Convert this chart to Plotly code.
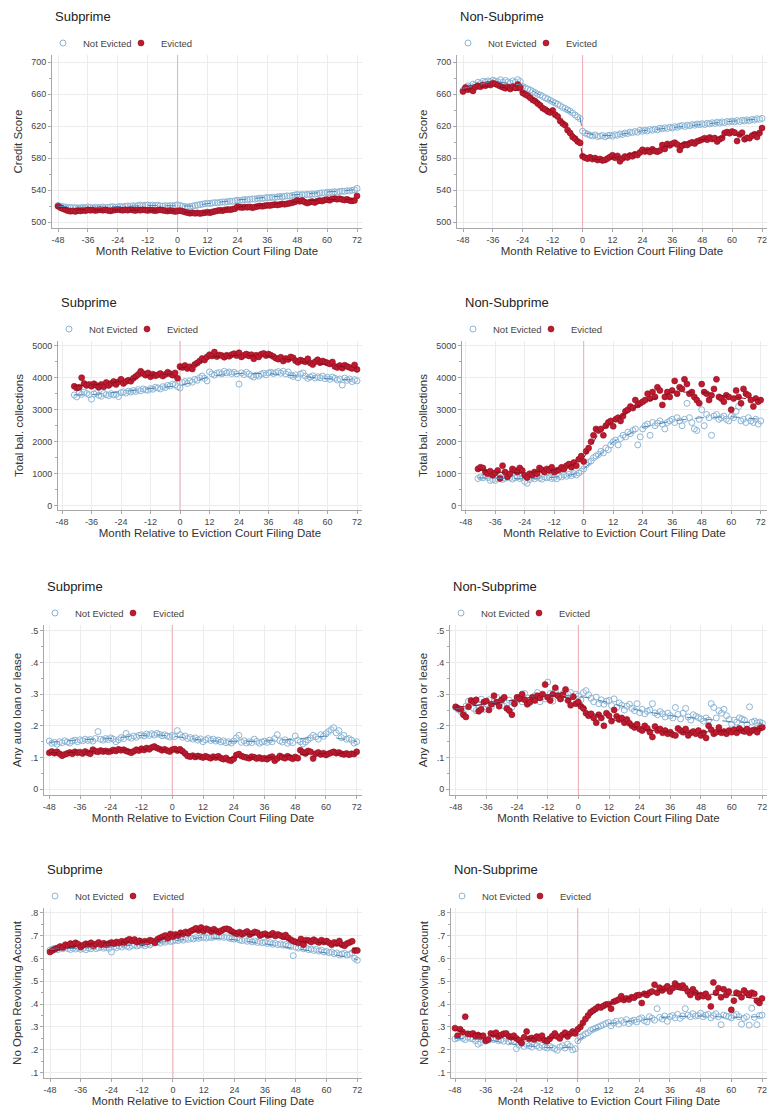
import plotly.graph_objects as go

W, H = 767, 1113

# ---------------- data ----------------
MONTHS = list(range(-48, 73))          # credit score, auto, revolving panels
MONTHS_COL = list(range(-43, 73))      # collections panels
FIT_X = [-48, -36, -24, -12, -6, -1, 0, 6, 12, 24, 36, 48, 60, 72]
FIT_X_COL = [-43, -36, -24, -12, -6, -1, 0, 6, 12, 24, 36, 48, 60, 72]
EVENT_MONTH = 0

X_TICKS = [-48, -36, -24, -12, 0, 12, 24, 36, 48, 60, 72]
X_TICK_LABELS = ["-48", "-36", "-24", "-12", "0", "12", "24", "36", "48", "60", "72"]
CS_TICKS = [500, 540, 580, 620, 660, 700]
CS_LABELS = ["500", "540", "580", "620", "660", "700"]
COL_TICKS = [0, 1000, 2000, 3000, 4000, 5000]
COL_LABELS = ["0", "1000", "2000", "3000", "4000", "5000"]
AUTO_TICKS = [0, 0.1, 0.2, 0.3, 0.4, 0.5]
AUTO_LABELS = ["0", ".1", ".2", ".3", ".4", ".5"]
REV_TICKS = [0.1, 0.2, 0.3, 0.4, 0.5, 0.6, 0.7, 0.8]
REV_LABELS = [".1", ".2", ".3", ".4", ".5", ".6", ".7", ".8"]

# Subprime credit score
SUB_CS_NE = [
    520.5, 519.8, 519.2, 518.6, 517.9, 518.3, 517.6, 518.1, 517.4, 517.9, 518.2, 517.7,
    518.9, 518.1, 517.6, 518.4, 517.8, 518.2, 518.7, 517.9, 518.3, 518.8, 519.1, 518.4,
    518.9, 519.4, 518.8, 519.6, 520.1, 519.5, 520.3, 519.8, 520.6, 521.2, 520.4, 520.9,
    521.3, 520.7, 521.1, 520.5, 520.9, 520.2, 519.8, 520.4, 519.9, 520.5, 520.1, 520.8,
    521.5, 520.6, 519.9, 519.2, 518.8, 519.4, 519.9, 520.5, 521.1, 521.8, 522.3, 522.9,
    523.4, 523.1, 523.8, 524.2, 523.9, 524.6, 525.1, 524.8, 525.5, 526.1, 525.8, 526.4,
    527.3, 526.9, 527.5, 528.1, 527.7, 528.4, 528.9, 528.6, 529.3, 529.8, 529.4, 530.1,
    530.6, 530.2, 531.1, 530.7, 531.4, 531.9, 531.5, 532.2, 532.7, 532.3, 533.1, 533.6,
    534.5, 533.8, 534.3, 533.9, 534.6, 534.2, 535.1, 534.7, 535.4, 535.9, 536.5, 536.1,
    537.2, 536.6, 537.4, 537.9, 537.3, 538.1, 538.6, 538.2, 539.1, 538.7, 539.6, 540.2,
    542.0]
SUB_CS_EV = [
    519.8, 517.9, 516.6, 515.2, 514.1, 513.4, 513.9, 513.2, 514.4, 513.8, 514.6, 514.1,
    515.3, 514.6, 515.1, 514.3, 514.9, 515.4, 514.7, 515.2, 514.5, 513.9, 514.6, 515.1,
    515.8, 515.1, 514.6, 515.3, 514.8, 515.5, 514.9, 514.3, 515.1, 514.7, 515.4, 514.9,
    514.4, 515.1, 514.6, 514.1, 514.8, 515.3, 514.7, 514.2, 513.6, 514.3, 513.7, 513.1,
    513.6, 514.2, 513.3, 512.4, 511.6, 510.9, 511.5, 510.8, 511.3, 510.6, 511.2, 511.7,
    512.3, 511.6, 512.6, 513.3, 514.1, 514.6, 514.2, 515.1, 515.6, 515.3, 516.0, 516.6,
    519.2, 518.4, 518.0, 518.7, 518.3, 518.9, 517.8, 518.6, 519.4, 520.1, 519.6, 520.3,
    521.0, 520.5, 521.2, 521.8, 521.3, 521.9, 522.6, 522.1, 522.8, 523.4, 524.2, 525.1,
    527.0, 525.8, 526.9, 524.9, 523.6, 524.8, 525.6, 524.3, 525.9, 526.8, 526.2, 527.4,
    528.0, 527.1, 528.6, 529.3, 528.4, 529.1, 528.2, 527.5, 528.3, 527.0, 526.4, 526.9,
    532.6]
SUB_CS_FIT_NE = [519.5, 518.2, 519.0, 520.8, 520.4, 520.3, 521.0, 520.0, 523.0, 527.5, 531.0, 534.5, 537.5, 540.5]
SUB_CS_FIT_EV = [518.5, 515.0, 515.0, 514.6, 514.4, 513.6, 513.2, 511.3, 512.5, 518.5, 521.5, 525.5, 528.0, 528.5]

# Non-subprime credit score
NS_CS_NE = [
    664.8, 667.5, 670.2, 669.1, 672.4, 671.3, 674.6, 673.2, 675.8, 674.9, 676.3, 675.4,
    677.2, 676.1, 675.3, 677.8, 674.6, 676.9, 675.2, 673.8, 676.4, 674.7, 677.9, 675.6,
    669.3, 667.8, 666.2, 664.9, 663.1, 661.8, 659.6, 658.7, 656.9, 655.2, 653.8, 652.1,
    650.4, 648.8, 647.1, 645.6, 643.2, 641.9, 640.1, 638.4, 636.2, 633.7, 631.4, 629.2,
    613.5, 611.2, 609.8, 608.4, 607.6, 608.9, 606.8, 607.4, 608.1, 606.5, 607.9, 608.6,
    607.2, 609.1, 608.4, 610.2, 609.5, 611.3, 610.6, 612.4, 611.8, 613.1, 612.2, 614.6,
    613.4, 614.9, 613.8, 615.6, 614.7, 616.1, 615.2, 617.3, 616.5, 617.8, 616.9, 618.5,
    617.6, 619.2, 618.3, 619.8, 620.6, 619.4, 621.1, 620.3, 621.8, 621.0, 622.5, 621.7,
    622.9, 621.8, 623.4, 622.6, 624.1, 623.2, 624.8, 623.6, 625.1, 624.3, 625.7, 624.9,
    626.2, 625.1, 626.8, 625.6, 627.1, 626.3, 627.6, 626.7, 628.2, 627.4, 629.1, 628.3,
    629.5]
NS_CS_EV = [
    663.2, 668.1, 665.4, 667.3, 663.9, 668.6, 670.2, 669.1, 671.4, 670.3, 672.1, 671.2,
    673.4, 672.6, 671.1, 669.8, 668.4, 667.2, 668.9, 666.3, 669.1, 667.6, 671.8, 668.2,
    661.3, 659.4, 657.8, 655.2, 652.6, 650.9, 648.1, 645.7, 642.3, 640.6, 638.2, 636.9,
    639.4, 634.2, 631.8, 626.4, 623.1, 620.9, 614.8, 611.2, 606.3, 604.1, 600.7, 598.9,
    582.1, 580.4, 579.2, 580.8, 578.6, 579.9, 577.4, 578.8, 576.9, 577.6, 579.3, 581.2,
    583.4, 580.2, 582.6, 575.8, 579.4, 581.8, 580.6, 583.2, 582.1, 584.6, 583.8, 586.9,
    590.2, 588.1, 589.6, 587.4, 590.8, 588.7, 587.9, 589.3, 596.2, 591.4, 597.6, 595.8,
    597.9, 599.2, 596.8, 590.1, 595.4, 597.1, 596.3, 598.4, 599.6, 598.1, 600.8, 601.9,
    603.2, 604.8, 602.9, 605.6, 603.7, 604.9, 600.6, 603.4, 605.1, 611.2, 612.4, 610.9,
    613.1, 611.8, 601.2, 609.3, 611.6, 603.4, 605.2, 604.8, 607.9, 609.6, 606.1, 611.3,
    617.4]
NS_CS_FIT_NE = [667, 676, 671, 650, 639, 630, 612, 608, 608, 614, 618, 622, 626, 629]
NS_CS_FIT_EV = [665, 671, 663, 638, 619, 600, 582, 578, 580, 589, 596, 603, 608, 612]

# Subprime total balance in collections (months -43..72)
SUB_COL_NE = [
    3460, 3400, 3520, 3480, 3550, 3510, 3470,
    3330, 3490, 3530, 3450, 3420, 3510, 3470, 3440, 3500, 3460, 3480, 3410,
    3530, 3560, 3520, 3580, 3550, 3600, 3570, 3630, 3590, 3650, 3620, 3610,
    3660, 3640, 3700, 3680, 3650, 3720, 3690, 3760, 3740, 3800, 3780, 3720,
    3680, 3850, 3880, 3820, 3900, 3860, 3950, 3920, 4000, 4050, 3980, 3900,
    4180, 4120, 4080, 4140, 4160, 4120, 4200, 4150, 4180, 4130, 4170, 4120,
    3800, 4150, 4100, 4170, 4120, 4060, 4020, 4080, 4050, 4110, 4140, 4090,
    4150, 4170, 4130, 4160, 4190, 4140, 4200, 4120, 4180, 4080, 4040, 4090,
    4000, 4110, 4150, 4050, 3980, 4020, 4060, 3990, 4030, 4000, 4050, 3970,
    4010, 3950, 4020, 3980, 3930, 3960, 3770, 3990, 3920, 3960, 3880, 3940,
    3900]
SUB_COL_EV = [
    3730, 3680, 3700, 4000, 3820, 3760, 3790,
    3730, 3810, 3760, 3700, 3790, 3720, 3850, 3760, 3820, 3880, 3790, 3870,
    3950, 3820, 3880, 3920, 3890, 3980, 4040, 4100, 4200, 4130, 4080, 4150,
    4030, 4110, 4060, 4090, 4130, 4050, 4100, 4170, 4120, 4080, 4150, 3980,
    4350, 4320, 4380, 4290, 4340, 4270, 4410, 4460, 4520, 4600, 4550, 4650,
    4720, 4680, 4800, 4660, 4710, 4690, 4640, 4700, 4670, 4720, 4750, 4690,
    4780, 4650, 4700, 4740, 4680, 4720, 4590, 4700, 4650, 4730, 4760, 4690,
    4740, 4700, 4660, 4610, 4580, 4640, 4520, 4600, 4570, 4650, 4620, 4530,
    4480, 4550, 4520, 4500, 4590, 4460, 4410, 4500, 4560, 4470, 4520, 4490,
    4460, 4430, 4490, 4350, 4320, 4380, 4300, 4390, 4350, 4320, 4290, 4400,
    4260]
SUB_COL_FIT_NE = [3460, 3470, 3560, 3670, 3710, 3740, 3760, 3870, 4050, 4130, 4130, 4050, 3970, 3920]
SUB_COL_FIT_EV = [3740, 3770, 3880, 4080, 4100, 4120, 4300, 4380, 4650, 4700, 4680, 4510, 4400, 4300]

# Non-subprime total balance in collections (months -43..72)
NS_COL_NE = [
    850, 900, 870, 920, 880, 790, 820,
    790, 850, 880, 820, 860, 910, 880, 830, 870, 900, 850, 880,
    760, 700, 820, 880, 840, 900, 860, 830, 900, 870, 890, 850,
    880, 840, 920, 900, 960, 920, 980, 940, 1000, 960, 1020, 1080,
    1150, 1280, 1350, 1400, 1500, 1550, 1600, 1700, 1650, 1800, 1750, 1900,
    2000, 2050, 1900, 2100, 2200, 2150, 2300, 2250, 2350, 2400, 1900, 2150,
    2400, 2500, 2550, 2200, 2600, 2500, 2580, 2650, 2550, 2400, 2600, 2650,
    2700, 2600, 2750, 2650, 2500, 2700, 3200, 2750, 2600, 2400, 2350, 2700,
    3000, 2500, 2850, 2750, 2200, 2800, 2850, 2700, 2750, 2800, 2700, 2650,
    2800, 2750, 2950, 3100, 2650, 2700, 2600, 2750, 2650, 2600, 2700, 2550,
    2650]
NS_COL_EV = [
    1150, 1200, 1180, 1050, 1000, 1080, 950,
    1020, 1100, 850, 1250, 1050, 900, 1000, 1150, 1100, 1050, 1180, 1100,
    950, 880, 1000, 950, 1050, 1000, 1180, 1120, 1050, 1150, 1100, 1200,
    1050, 1100, 1120, 1200, 1150, 1250, 1300, 1200, 1350, 1250, 1450, 1550,
    1380, 1700, 1800, 2000, 2200, 2400, 2350, 2400, 2200, 2500, 2600, 2650,
    2480, 2700, 2750, 2650, 2800, 2950, 3000, 3100, 3050, 3300, 3150, 3200,
    3250, 3300, 3500, 3350, 3550, 3400, 3700, 3600, 3150, 3400, 3550, 3400,
    3600, 3900, 3500, 3700, 3650, 3950, 3800, 3500, 3550, 3400, 3300, 3200,
    3800, 3550, 3500, 3300, 3450, 3650, 3950, 3400, 3350, 3250, 3450, 3400,
    3000, 3350, 3600, 3400, 3200, 3650, 3500, 3450, 3300, 3100, 3350, 3250,
    3300]
NS_COL_FIT_NE = [870, 860, 840, 890, 950, 1040, 1150, 1550, 2000, 2450, 2650, 2750, 2780, 2700]
NS_COL_FIT_EV = [1130, 1050, 1020, 1120, 1230, 1400, 1500, 2250, 2650, 3200, 3550, 3550, 3400, 3300]

# Subprime any auto loan or lease
SUB_AUTO_NE = [
    .152, .145, .148, .142, .150, .147, .153, .149, .146, .152, .155, .150,
    .156, .153, .158, .154, .157, .152, .160, .182, .158, .155, .160, .157,
    .162, .158, .150, .156, .163, .160, .176, .165, .161, .168, .164, .170,
    .172, .168, .174, .170, .175, .171, .176, .173, .169, .172, .168, .165,
    .170, .166, .185, .172, .164, .168, .160, .163, .158, .162, .155, .159,
    .150, .156, .160, .154, .158, .152, .155, .149, .153, .147, .150, .146,
    .152, .162, .170, .148, .153, .146, .150, .147, .158, .151, .145, .149,
    .152, .148, .155, .150, .160, .172, .153, .149, .156, .145, .151, .147,
    .168, .155, .150, .143, .149, .156, .162, .170, .165, .158, .172, .167,
    .175, .182, .188, .194, .178, .185, .163, .170, .158, .160, .155, .146,
    .150]
SUB_AUTO_EV = [
    .115, .119, .114, .118, .112, .106, .110, .113, .116, .112, .118, .115,
    .117, .113, .119, .115, .112, .125, .120, .118, .122, .119, .121, .118,
    .120, .124, .121, .126, .123, .125, .121, .118, .115, .120, .125, .122,
    .128, .124, .130, .126, .132, .135, .130, .127, .123, .126, .122, .119,
    .125, .127, .122, .126, .120, .113, .105, .103, .106, .102, .105, .103,
    .100, .104, .101, .098, .103, .100, .104, .098, .095, .099, .092, .090,
    .096, .108, .111, .105, .102, .100, .098, .103, .101, .097, .100, .096,
    .098, .095, .100, .103, .090, .097, .105, .101, .098, .104, .100, .096,
    .102, .098, .123, .117, .113, .121, .118, .097, .112, .116, .110, .114,
    .108, .112, .115, .118, .114, .116, .112, .110, .113, .109, .112, .111,
    .118]
SUB_AUTO_FIT_NE = [.148, .156, .160, .170, .172, .168, .168, .162, .154, .150, .152, .158, .168, .150]
SUB_AUTO_FIT_EV = [.115, .117, .122, .127, .128, .123, .124, .108, .100, .100, .099, .108, .113, .115]

# Non-subprime any auto loan or lease
NS_AUTO_NE = [
    .258, .252, .245, .240, .262, .278, .271, .255, .248, .265, .284, .252,
    .270, .282, .261, .276, .290, .268, .283, .262, .272, .281, .259, .270,
    .282, .291, .276, .302, .288, .273, .282, .295, .305, .276, .292, .285,
    .338, .302, .278, .310, .296, .285, .302, .287, .299, .305, .292, .300,
    .295, .282, .305, .311, .298, .287, .276, .291, .270, .282, .268, .278,
    .280, .264, .285, .258, .272, .265, .250, .262, .268, .255, .248, .270,
    .242, .252, .238, .246, .250, .270, .241, .235, .245, .238, .228, .240,
    .232, .225, .258, .236, .222, .240, .255, .228, .218, .235, .230, .226,
    .222, .215, .225, .218, .270, .258, .225, .248, .240, .252, .232, .220,
    .205, .218, .212, .225, .222, .218, .205, .260, .212, .215, .210, .212,
    .208]
NS_AUTO_EV = [
    .260, .255, .252, .235, .228, .260, .280, .275, .282, .246, .252, .275,
    .278, .250, .268, .295, .275, .262, .282, .290, .255, .248, .235, .270,
    .290, .285, .300, .282, .268, .275, .290, .280, .295, .288, .300, .330,
    .290, .280, .300, .320, .295, .285, .298, .315, .280, .265, .292, .270,
    .275, .262, .255, .240, .232, .238, .225, .210, .235, .225, .200, .240,
    .232, .215, .250, .230, .220, .225, .210, .220, .208, .200, .195, .205,
    .190, .185, .200, .192, .180, .165, .198, .185, .190, .178, .185, .175,
    .180, .172, .170, .192, .185, .180, .190, .170, .178, .182, .175, .185,
    .170, .178, .162, .200, .188, .175, .180, .195, .178, .182, .175, .185,
    .180, .188, .178, .192, .185, .182, .190, .178, .185, .188, .180, .192,
    .195]
NS_AUTO_FIT_NE = [.255, .270, .285, .298, .296, .296, .294, .285, .272, .248, .232, .223, .213, .208]
NS_AUTO_FIT_EV = [.258, .268, .282, .298, .292, .278, .272, .238, .225, .190, .180, .180, .185, .192]

# Subprime no open revolving account
SUB_REV_NE = [
    .636, .641, .644, .638, .646, .642, .648, .643, .639, .645, .641, .647,
    .640, .644, .638, .646, .642, .649, .643, .647, .651, .645, .648, .644,
    .628, .652, .647, .655, .650, .658, .653, .649, .656, .660, .654, .658,
    .661, .655, .663, .659, .666, .670, .672, .667, .675, .671, .678, .674,
    .676, .681, .678, .684, .680, .687, .683, .689, .685, .691, .688, .692,
    .693, .689, .695, .691, .694, .698, .693, .697, .692, .695, .689, .686,
    .684, .687, .681, .678, .683, .675, .679, .672, .676, .670, .674, .668,
    .671, .665, .669, .662, .666, .660, .664, .658, .661, .655, .652, .612,
    .649, .645, .651, .642, .646, .638, .641, .635, .639, .632, .636, .628,
    .631, .625, .628, .620, .624, .616, .619, .622, .615, .618, .624, .600,
    .592]
SUB_REV_EV = [
    .628, .635, .641, .646, .652, .648, .660, .655, .665, .659, .668, .662,
    .650, .658, .664, .661, .668, .655, .663, .670, .660, .666, .659, .665,
    .670, .664, .672, .667, .675, .669, .678, .684, .676, .683, .671, .677,
    .668, .675, .672, .680, .676, .668, .684, .690, .695, .700, .688, .707,
    .695, .705, .700, .712, .708, .716, .710, .720, .725, .732, .722, .735,
    .720, .730, .725, .718, .728, .720, .715, .722, .728, .730, .726, .718,
    .712, .708, .715, .706, .712, .718, .705, .710, .716, .712, .700, .705,
    .708, .700, .703, .710, .698, .705, .700, .695, .702, .690, .682, .676,
    .672, .668, .685, .660, .680, .678, .672, .682, .675, .670, .680, .672,
    .676, .668, .660, .670, .665, .676, .660, .655, .665, .670, .675, .635,
    .635]
SUB_REV_FIT_NE = [.640, .644, .650, .662, .668, .674, .677, .685, .692, .682, .664, .642, .624, .595]
SUB_REV_FIT_EV = [.632, .660, .670, .673, .682, .700, .700, .713, .725, .710, .700, .675, .668, .640]

# Non-subprime no open revolving account
NS_REV_NE = [
    .248, .252, .258, .250, .245, .255, .250, .248, .240, .225, .232, .245,
    .238, .242, .250, .245, .252, .240, .244, .238, .250, .235, .242, .238,
    .205, .220, .228, .215, .224, .218, .212, .225, .218, .210, .220, .212,
    .208, .215, .210, .205, .198, .212, .218, .208, .225, .215, .200, .205,
    .240, .255, .262, .270, .275, .285, .290, .295, .300, .305, .310, .315,
    .320, .305, .318, .325, .312, .328, .320, .332, .315, .325, .330, .322,
    .335, .340, .328, .322, .345, .338, .330, .380, .342, .335, .348, .325,
    .345, .350, .340, .355, .338, .348, .380, .352, .345, .358, .348, .350,
    .360, .345, .352, .355, .340, .350, .358, .345, .310, .352, .348, .345,
    .340, .350, .355, .345, .312, .338, .345, .308, .382, .342, .310, .350,
    .352]
NS_REV_EV = [
    .295, .262, .290, .278, .345, .270, .268, .272, .260, .265, .258, .262,
    .240, .245, .272, .268, .275, .258, .265, .270, .272, .260, .255, .262,
    .250, .242, .230, .255, .280, .248, .252, .245, .258, .250, .262, .242,
    .238, .248, .260, .272, .258, .250, .265, .275, .258, .270, .280, .272,
    .290, .300, .318, .335, .350, .365, .372, .380, .388, .385, .392, .398,
    .400, .380, .410, .415, .420, .435, .418, .425, .420, .430, .428, .438,
    .440, .405, .445, .440, .450, .455, .485, .450, .472, .460, .468, .478,
    .455, .470, .490, .480, .475, .482, .470, .455, .440, .465, .450, .430,
    .440, .435, .445, .430, .390, .495, .450, .470, .430, .465, .440, .455,
    .375, .415, .450, .445, .430, .460, .448, .440, .450, .445, .415, .405,
    .425]
NS_REV_FIT_NE = [.250, .245, .222, .210, .210, .212, .240, .285, .315, .330, .345, .348, .342, .345]
NS_REV_FIT_EV = [.285, .265, .250, .250, .260, .275, .290, .360, .400, .440, .470, .445, .440, .420]

# ---------------- styling / layout ----------------
FONT = "Liberation Sans, Arial, sans-serif"
NE_LINE = "#8db6d6"
EV_FILL = "#c01a30"
EV_LINE = "#8a0f1f"
NE_FIT = "#4f86b5"
EV_FIT = "#8a0f1f"
EVENT_LINE = "#f0aab4"
GRID = "#ececec"
AXIS = "#a8a8a8"

# (left, right, top, bottom, px of x=-48, px of x=72, px of top ytick, px of bottom ytick)
GEOM = [
    (52, 362, 55, 228, 58.0, 357.0, 62.0, 222.0),
    (457, 767, 55, 228, 463.0, 762.0, 62.0, 222.0),
    (58, 362, 341, 510, 62.0, 357.0, 345.7, 505.7),
    (462, 767, 341, 510, 465.7, 760.7, 345.7, 505.7),
    (44, 362, 625, 795, 49.3, 356.7, 630.7, 789.3),
    (450, 767, 625, 795, 455.7, 762.3, 630.7, 789.3),
    (44, 362, 908, 1078, 50.0, 357.3, 912.7, 1072.7),
    (451, 767, 908, 1078, 455.0, 762.0, 912.7, 1072.7),
]

PANELS = [
    ("Subprime", "Credit Score", MONTHS, SUB_CS_NE, SUB_CS_EV, FIT_X, SUB_CS_FIT_NE, SUB_CS_FIT_EV, CS_TICKS, CS_LABELS),
    ("Non-Subprime", "Credit Score", MONTHS, NS_CS_NE, NS_CS_EV, FIT_X, NS_CS_FIT_NE, NS_CS_FIT_EV, CS_TICKS, CS_LABELS),
    ("Subprime", "Total bal. collections", MONTHS_COL, SUB_COL_NE, SUB_COL_EV, FIT_X_COL, SUB_COL_FIT_NE, SUB_COL_FIT_EV, COL_TICKS, COL_LABELS),
    ("Non-Subprime", "Total bal. collections", MONTHS_COL, NS_COL_NE, NS_COL_EV, FIT_X_COL, NS_COL_FIT_NE, NS_COL_FIT_EV, COL_TICKS, COL_LABELS),
    ("Subprime", "Any auto loan or lease", MONTHS, SUB_AUTO_NE, SUB_AUTO_EV, FIT_X, SUB_AUTO_FIT_NE, SUB_AUTO_FIT_EV, AUTO_TICKS, AUTO_LABELS),
    ("Non-Subprime", "Any auto loan or lease", MONTHS, NS_AUTO_NE, NS_AUTO_EV, FIT_X, NS_AUTO_FIT_NE, NS_AUTO_FIT_EV, AUTO_TICKS, AUTO_LABELS),
    ("Subprime", "No Open Revolving Account", MONTHS, SUB_REV_NE, SUB_REV_EV, FIT_X, SUB_REV_FIT_NE, SUB_REV_FIT_EV, REV_TICKS, REV_LABELS),
    ("Non-Subprime", "No Open Revolving Account", MONTHS, NS_REV_NE, NS_REV_EV, FIT_X, NS_REV_FIT_NE, NS_REV_FIT_EV, REV_TICKS, REV_LABELS),
]

fig = go.Figure()
layout = dict(
    width=W, height=H, margin=dict(l=0, r=0, t=0, b=0),
    paper_bgcolor="white", plot_bgcolor="white",
    font=dict(family=FONT, color="#333333"),
    annotations=[],
)

for i, (title, ytitle, xs, ne, ev, fx, fne, fev, yt, yl) in enumerate(PANELS):
    n = i + 1
    sfx = "" if n == 1 else str(n)
    assert len(xs) == len(ne) == len(ev), (title, ytitle, len(xs), len(ne), len(ev))
    left, right, top, bottom, xa, xb, ypt, ypb = GEOM[i]
    sx = (xb - xa) / (X_TICKS[-1] - X_TICKS[0])
    xr = [X_TICKS[0] - (xa - left) / sx, X_TICKS[-1] + (right - xb) / sx]
    sy = (ypb - ypt) / (yt[-1] - yt[0])
    yr = [yt[0] - (bottom - ypb) / sy, yt[-1] + (ypt - top) / sy]
    step = yt[1] - yt[0]
    leg = "legend" + sfx

    # reference line at the filing month, spanning the full y range (under the markers)
    fig.add_trace(go.Scatter(
        x=[EVENT_MONTH, EVENT_MONTH], y=yr, mode="lines", showlegend=False, hoverinfo="skip",
        line=dict(color=EVENT_LINE, width=1), cliponaxis=True,
        xaxis="x" + sfx, yaxis="y" + sfx))
    fig.add_trace(go.Scatter(
        x=xs, y=ne, mode="markers", name="Not Evicted",
        marker=dict(symbol="circle-open", size=6, color=NE_LINE, line=dict(width=1, color=NE_LINE)),
        xaxis="x" + sfx, yaxis="y" + sfx, legend=leg))
    fig.add_trace(go.Scatter(
        x=xs, y=ev, mode="markers", name="Evicted",
        marker=dict(symbol="circle", size=6, color=EV_FILL, line=dict(width=0.6, color=EV_LINE)),
        xaxis="x" + sfx, yaxis="y" + sfx, legend=leg))
    fig.add_trace(go.Scatter(
        x=fx, y=fne, mode="lines", showlegend=False, hoverinfo="skip",
        line=dict(color=NE_FIT, width=1, dash="dash"),
        xaxis="x" + sfx, yaxis="y" + sfx))
    fig.add_trace(go.Scatter(
        x=fx, y=fev, mode="lines", showlegend=False, hoverinfo="skip",
        line=dict(color=EV_FIT, width=1, dash="dash"),
        xaxis="x" + sfx, yaxis="y" + sfx))

    layout["xaxis" + sfx] = dict(
        domain=[left / W, right / W], range=xr, anchor="y" + sfx,
        tickvals=X_TICKS, ticktext=X_TICK_LABELS, ticklabeloverflow="allow",
        ticks="outside", ticklen=3, tickcolor=AXIS, tickwidth=1,
        showline=True, linecolor=AXIS, linewidth=1,
        showgrid=True, gridcolor=GRID, gridwidth=1, zeroline=False,
        tickfont=dict(size=9, color="#444444", family=FONT),
        title=dict(text="Month Relative to Eviction Court Filing Date",
                   font=dict(size=11.5, color="#333333", family=FONT), standoff=2),
        automargin=False, fixedrange=True,
    )
    layout["yaxis" + sfx] = dict(
        domain=[1 - bottom / H, 1 - top / H], range=yr, anchor="x" + sfx,
        tickvals=yt, ticktext=yl,
        ticks="outside", ticklen=3, tickcolor=AXIS, tickwidth=1,
        minor=dict(dtick=step / 2, tick0=yt[0], ticks="outside", ticklen=2, tickcolor=AXIS, showgrid=False),
        showline=True, linecolor=AXIS, linewidth=1,
        showgrid=True, gridcolor=GRID, gridwidth=1, zeroline=False,
        tickfont=dict(size=9, color="#444444", family=FONT),
        title=dict(text=ytitle, font=dict(size=11.5, color="#333333", family=FONT), standoff=6),
        automargin=False, fixedrange=True,
    )
    # panel title
    layout["annotations"].append(dict(
        text=title, xref="paper", yref="paper",
        x=(left + 1) / W, y=1 - (top - 39) / H, xanchor="left", yanchor="middle",
        showarrow=False, font=dict(size=13, color="#222222", family=FONT)))
    layout[leg] = dict(
        x=(left - 9) / W, y=1 - (top - 12) / H, xanchor="left", yanchor="middle",
        orientation="h", bgcolor="rgba(0,0,0,0)", borderwidth=0,
        font=dict(size=9.5, color="#444444", family=FONT),
        itemwidth=30, entrywidth=33, entrywidthmode="pixels", tracegroupgap=0,
    )

fig.update_layout(**layout)
fig.write_html("out.html")
